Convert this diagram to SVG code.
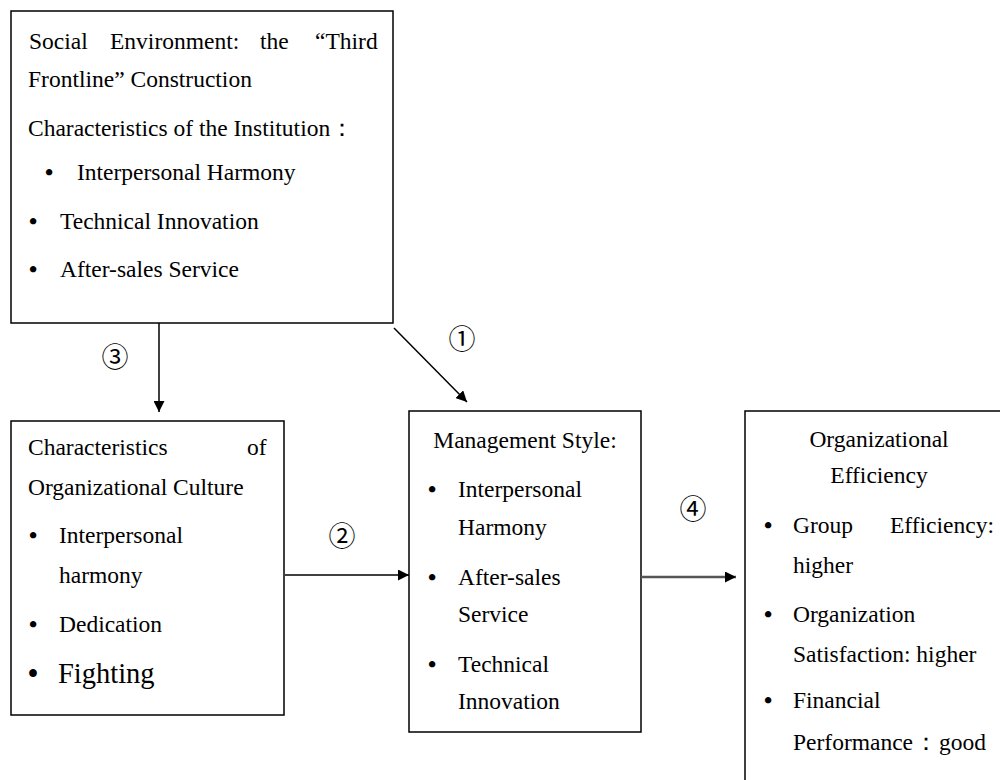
<svg xmlns="http://www.w3.org/2000/svg" width="1000" height="780" viewBox="0 0 1000 780">
<defs>
<style>
.box{fill:#fff;stroke:#000;stroke-width:1.5}
.t{font-family:"Liberation Serif","Times New Roman",serif;font-size:23.5px;fill:#000}
.big{font-size:28.5px}
.b{font-weight:bold}
.num{font-family:"Noto Sans CJK SC","DejaVu Sans",sans-serif;font-size:27px;fill:#000}
.ln{stroke:#000;stroke-width:1.5;fill:none}
</style>
<marker id="ah" viewBox="0 0 10 10" refX="10" refY="5" markerWidth="11" markerHeight="11" markerUnits="userSpaceOnUse" orient="auto">
<path d="M0,0 L10,5 L0,10 z" fill="#000"/>
</marker>
</defs>
<rect width="1000" height="780" fill="#fff"/>
<g id="social">
<rect class="box" x="11" y="11" width="382" height="312"/>
<text class="t" y="49"><tspan x="29">Social</tspan><tspan x="110">Environment:</tspan><tspan x="260">the</tspan><tspan x="315">“Third</tspan></text>
<text class="t" x="28" y="87">Frontline” Construction</text>
<text class="t" x="28" y="136">Characteristics of the Institution：</text>
<text class="t" y="180"><tspan x="45" class="b">•</tspan><tspan x="77">Interpersonal Harmony</tspan></text>
<text class="t" y="229"><tspan x="29" class="b">•</tspan><tspan x="60">Technical Innovation</tspan></text>
<text class="t" y="277"><tspan x="29" class="b">•</tspan><tspan x="60">After-sales Service</tspan></text>
</g>
<g id="culture">
<rect class="box" x="11" y="421" width="273" height="294"/>
<text class="t" y="455"><tspan x="28">Characteristics</tspan><tspan x="247">of</tspan></text>
<text class="t" x="28" y="495">Organizational Culture</text>
<text class="t" y="543"><tspan x="29" class="b">•</tspan><tspan x="59">Interpersonal</tspan></text>
<text class="t" x="59" y="583">harmony</text>
<text class="t" y="632"><tspan x="29" class="b">•</tspan><tspan x="59">Dedication</tspan></text>
<text class="t big" y="683"><tspan x="28" class="b">•</tspan><tspan x="58">Fighting</tspan></text>
</g>
<g id="management">
<rect class="box" x="409" y="411" width="232" height="321"/>
<text class="t" x="525" y="448" text-anchor="middle">Management Style:</text>
<text class="t" y="497"><tspan x="428" class="b">•</tspan><tspan x="458">Interpersonal</tspan></text>
<text class="t" x="458" y="535">Harmony</text>
<text class="t" y="585"><tspan x="428" class="b">•</tspan><tspan x="458">After-sales</tspan></text>
<text class="t" x="458" y="622">Service</text>
<text class="t" y="672"><tspan x="428" class="b">•</tspan><tspan x="458">Technical</tspan></text>
<text class="t" x="458" y="709">Innovation</text>
</g>
<g id="efficiency">
<rect class="box" x="745" y="411" width="270" height="390"/>
<text class="t" x="879" y="447" text-anchor="middle">Organizational</text>
<text class="t" x="879" y="483" text-anchor="middle">Efficiency</text>
<text class="t" y="533"><tspan x="764" class="b">•</tspan><tspan x="793">Group</tspan><tspan x="890">Efficiency:</tspan></text>
<text class="t" x="793" y="573">higher</text>
<text class="t" y="622"><tspan x="764" class="b">•</tspan><tspan x="793">Organization</tspan></text>
<text class="t" x="793" y="662">Satisfaction: higher</text>
<text class="t" y="708"><tspan x="764" class="b">•</tspan><tspan x="793">Financial</tspan></text>
<text class="t" y="750"><tspan x="793">Performance</tspan><tspan x="914">：</tspan><tspan x="939">good</tspan></text>
</g>
<g id="connectors">
<line class="ln" x1="159" y1="323" x2="159" y2="412" marker-end="url(#ah)"/>
<line class="ln" x1="394" y1="328" x2="467" y2="402" marker-end="url(#ah)"/>
<line class="ln" x1="285" y1="575" x2="409" y2="575" marker-end="url(#ah)"/>
<line x1="641" y1="577" x2="736" y2="577" stroke="#555" stroke-width="2.5" marker-end="url(#ah)"/>
<text class="num" x="115" y="367" text-anchor="middle">③</text>
<text class="num" x="462" y="349" text-anchor="middle">①</text>
<text class="num" x="342" y="546" text-anchor="middle">②</text>
<text class="num" x="693" y="519" text-anchor="middle">④</text>
</g>
</svg>
